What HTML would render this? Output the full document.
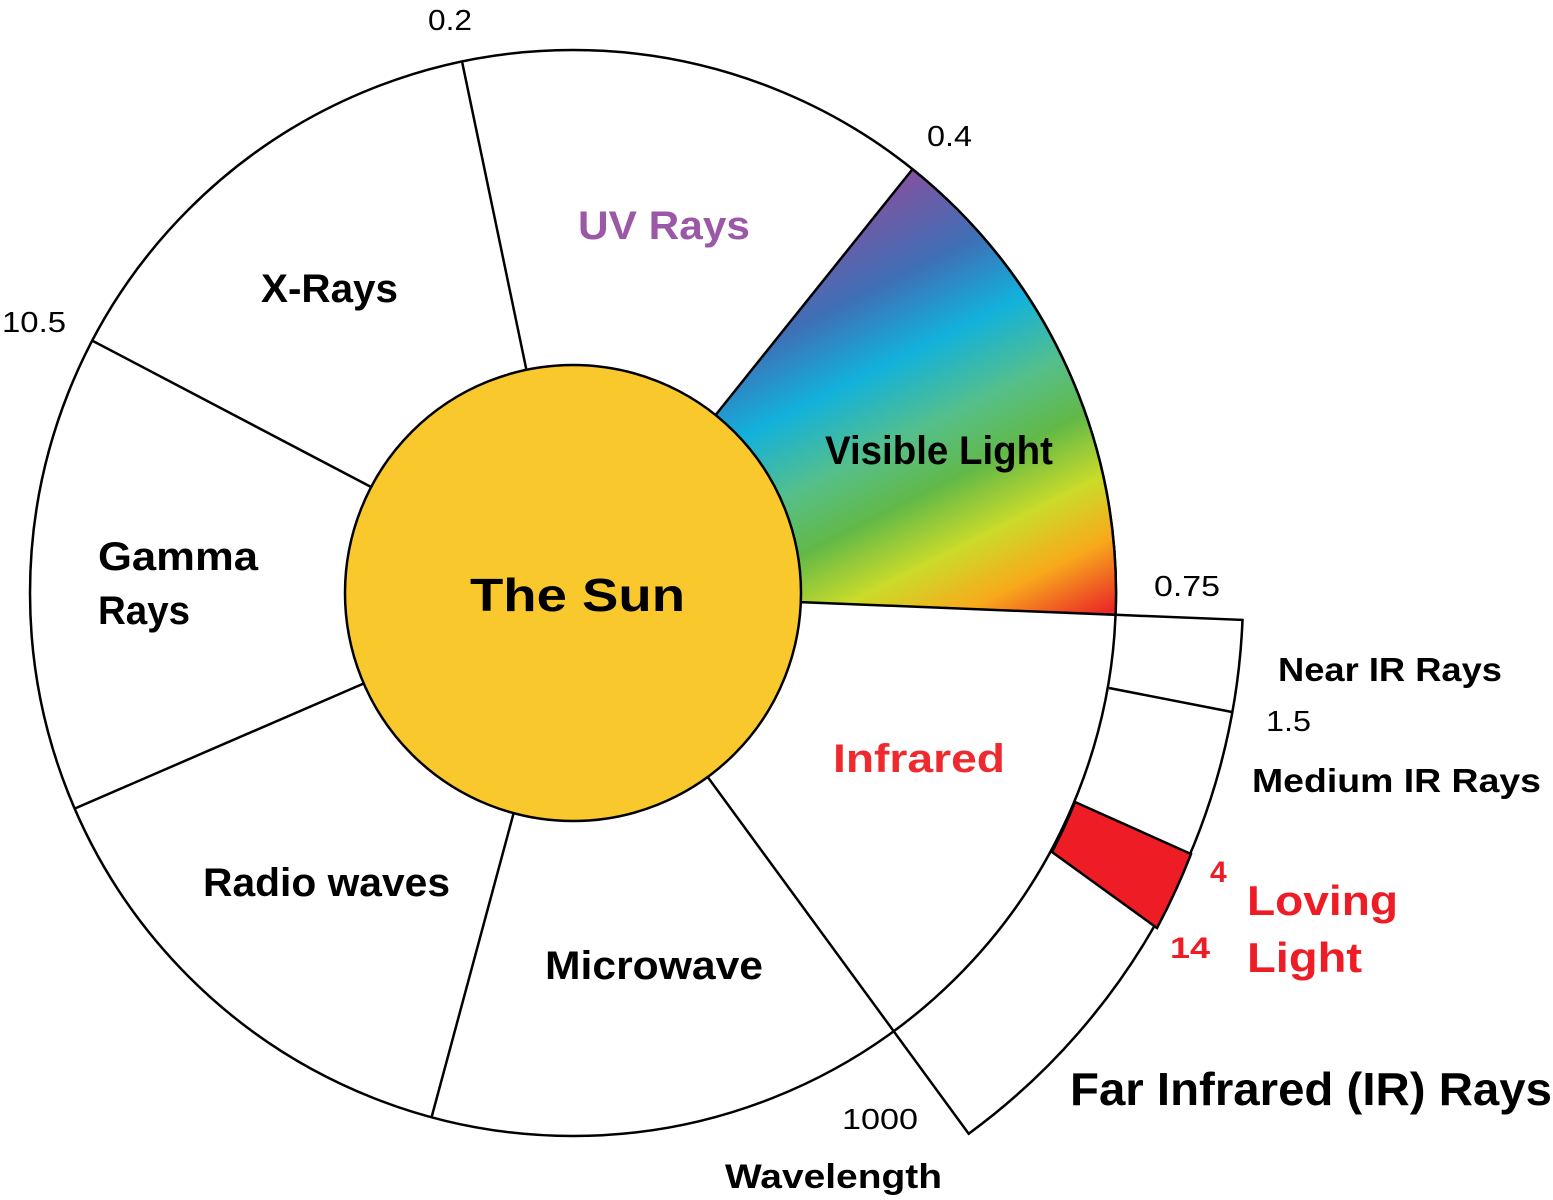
<!DOCTYPE html>
<html><head><meta charset="utf-8"><style>
html,body{margin:0;padding:0;background:#fff}
svg{display:block}
text{font-family:"Liberation Sans",sans-serif}
</style></head><body>
<svg width="1553" height="1200" viewBox="0 0 1553 1200" xmlns="http://www.w3.org/2000/svg">
<defs>
<linearGradient id="rb" gradientUnits="userSpaceOnUse" x1="880" y1="175" x2="1100" y2="615">
<stop offset="0" stop-color="#8a4f9e"/>
<stop offset="0.2" stop-color="#3f6fb5"/>
<stop offset="0.35" stop-color="#12b1dc"/>
<stop offset="0.5" stop-color="#55bf8a"/>
<stop offset="0.62" stop-color="#62b947"/>
<stop offset="0.75" stop-color="#cbdb2a"/>
<stop offset="0.87" stop-color="#f8a91b"/>
<stop offset="1" stop-color="#ea2a27"/>
</linearGradient>
</defs>
<g stroke="#000" stroke-width="2.5" fill="none">
<path d="M1115.6,614.8 L1242.5,619.9 A670,670 0 0 1 968.7,1133.7 L893.7,1031.2" fill="#fff"/>
<circle cx="573" cy="593" r="543" fill="#fff"/>
<path d="M715.5,415.1 L912.5,169.2 A543,543 0 0 1 1115.6,614.8 L800.8,602.1 Z" fill="url(#rb)"/>
<path d="M1075,802 L1191,854 A670,670 0 0 1 1157,928 L1052,852 A543,543 0 0 0 1075,802 Z" fill="#ee1c25"/>
<line x1="526.4" y1="369.8" x2="462" y2="61.4"/>
<line x1="707.7" y1="777" x2="893.7" y2="1031.2"/>
<line x1="513.6" y1="813.2" x2="431.5" y2="1117.5"/>
<line x1="363.7" y1="683.5" x2="74.6" y2="808.6"/>
<line x1="371.1" y1="487" x2="92.2" y2="340.6"/>
<line x1="1109" y1="688" x2="1232" y2="712"/>
<circle cx="573" cy="593" r="228" fill="#f9c82c"/>
</g>
<g font-weight="bold" fill="#000" lengthAdjust="spacingAndGlyphs">
<text x="470" y="611" font-size="46" textLength="215" lengthAdjust="spacingAndGlyphs">The Sun</text>
<text x="578" y="239" font-size="40" fill="#9b58a6" textLength="172" lengthAdjust="spacingAndGlyphs">UV Rays</text>
<text x="261" y="302" font-size="40" textLength="137" lengthAdjust="spacingAndGlyphs">X-Rays</text>
<text x="98" y="570" font-size="40" textLength="160" lengthAdjust="spacingAndGlyphs">Gamma</text>
<text x="98" y="624" font-size="40" textLength="92" lengthAdjust="spacingAndGlyphs">Rays</text>
<text x="203" y="896" font-size="40" textLength="247" lengthAdjust="spacingAndGlyphs">Radio waves</text>
<text x="545" y="979" font-size="40" textLength="218" lengthAdjust="spacingAndGlyphs">Microwave</text>
<text x="825" y="464" font-size="40" textLength="228" lengthAdjust="spacingAndGlyphs">Visible Light</text>
<text x="833" y="772" font-size="40" fill="#ee2a2e" textLength="172" lengthAdjust="spacingAndGlyphs">Infrared</text>
<text x="1278" y="681" font-size="33" textLength="224" lengthAdjust="spacingAndGlyphs">Near IR Rays</text>
<text x="1252" y="792" font-size="33" textLength="289" lengthAdjust="spacingAndGlyphs">Medium IR Rays</text>
<text x="1247" y="915" font-size="42" fill="#ee1c25" textLength="151" lengthAdjust="spacingAndGlyphs">Loving</text>
<text x="1247" y="972" font-size="42" fill="#ee1c25" textLength="115" lengthAdjust="spacingAndGlyphs">Light</text>
<text x="1210" y="882" font-size="30" fill="#ee1c25">4</text>
<text x="1170" y="958" font-size="30" fill="#ee1c25" textLength="40" lengthAdjust="spacingAndGlyphs">14</text>
<text x="1070" y="1105" font-size="46" textLength="482" lengthAdjust="spacingAndGlyphs">Far Infrared (IR) Rays</text>
<text x="725" y="1188" font-size="34" textLength="217" lengthAdjust="spacingAndGlyphs">Wavelength</text>
</g>
<g font-size="29" fill="#000">
<text x="428" y="30" textLength="44" lengthAdjust="spacingAndGlyphs">0.2</text>
<text x="927" y="146" textLength="45" lengthAdjust="spacingAndGlyphs">0.4</text>
<text x="2" y="332" textLength="64" lengthAdjust="spacingAndGlyphs">10.5</text>
<text x="1154" y="596" textLength="66" lengthAdjust="spacingAndGlyphs">0.75</text>
<text x="1266" y="731" textLength="45" lengthAdjust="spacingAndGlyphs">1.5</text>
<text x="842" y="1129" textLength="76" lengthAdjust="spacingAndGlyphs">1000</text>
</g>
</svg>
</body></html>
